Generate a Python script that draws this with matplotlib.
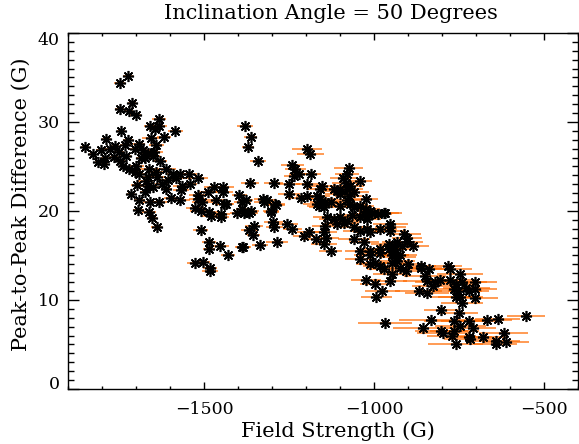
import matplotlib
matplotlib.use("Agg")
import matplotlib.pyplot as plt
from matplotlib.ticker import MultipleLocator
from matplotlib.transforms import ScaledTranslation

# field strength (G), peak-to-peak difference (G), half width of the error bar (G)
field = [
    -1849, -1828, -1803, -1790, -1812, -1787, -1778, -1765, -1793, -1747,
    -1739, -1684, -1690, -1625, -1611, -1675, -1715, -1540,
    -1723, -1748, -1712, -1748, -1722, -1701, -1633, -1659, -1632, -1645,
    -1585, -1744, -1656, -1618, -1724, -1640, -1763, -1731, -1691, -1750,
    -1704, -1679, -1666, -1651, -1674, -1730, -1646, -1630, -1720, -1699,
    -1704, -1661, -1642, -1611, -1591, -1572, -1545, -1519, -1666, -1637,
    -1671, -1606, -1582, -1697, -1666, -1651, -1564, -1568, -1470, -1445,
    -1489, -1445, -1519, -1397, -1691, -1659, -1632, -1597, -1572, -1519,
    -1505, -1465, -1441, -1387, -1694, -1661, -1653, -1639, -1527, -1510,
    -1485, -1451, -1436, -1402, -1387, -1480, -1451, -1510, -1485, -1485,
    -1452, -1429, -1387, -1527, -1503, -1482, -1482,
    -1380, -1363, -1371, -1196, -1187, -1342, -1241, -1231, -1221, -1236,
    -1185, -1075, -1079, -1090, -1040, -1081, -1365, -1295, -1250, -1196,
    -1153, -1158, -1119, -1099, -1079, -1070, -1025, -1059, -1328, -1314,
    -1290, -1304, -1363, -1250, -1216, -1196, -1167, -1158, -1143, -1162,
    -1148, -1108, -1099, -1075, -1079, -1070, -1059, -1040, -1025, -1011,
    -1001, -972, -987, -1030, -1016, -1378, -1368, -1382, -1324, -1287,
    -1302, -1353, -1368, -1355, -1296, -1293, -1255, -1241, -1285, -1384,
    -1336, -1207, -1192, -1172, -1148, -1140, -1148, -1128, -1167, -1128,
    -1099, -1138, -1118, -1099, -1079, -1064, -1040, -1021, -1108, -1143,
    -1089, -1059, -1040, -1021, -1011, -981, -952, -952, -913, -903,
    -932, -1059, -1030, -1040, -1011, -981, -957, -942, -918, -903,
    -884, -1011, -981, -948, -900, -923, -863, -783,
    -981, -942, -923, -996, -1040, -1011, -972, -948, -952, -996,
    -1023, -976, -993, -863, -838, -849, -844, -777, -746, -777,
    -703, -869, -844, -827, -760, -753, -746, -741, -722, -703,
    -802, -749, -967, -857, -832, -802, -764, -771, -722, -679,
    -667, -636, -553, -760, -717, -642, -612, -618,
    -967, -952, -957, -938, -947, -932, -931, -906, -821, -807,
    -741, -703, -728, -764, -760, -746, -710, -796, -764, -722, -642,
]
diff = [
    27.2, 26.4, 26.8, 25.9, 25.5, 28.1, 27.0, 26.1, 25.3, 25.6,
    25.0, 25.9, 24.2, 23.0, 22.5, 22.1, 21.9, 23.0,
    35.2, 34.4, 32.1, 31.5, 31.2, 30.8, 30.3, 29.5, 29.5, 29.2,
    29.0, 29.0, 28.2, 28.3, 28.0, 27.4, 27.3, 27.4, 27.5, 26.6,
    27.0, 26.8, 26.5, 26.2, 26.0, 26.2, 26.6, 25.6, 24.7, 25.1,
    24.4, 24.7, 24.4, 24.7, 24.2, 24.2, 24.2, 23.7, 23.8, 23.8,
    23.4, 23.5, 23.7, 22.9, 22.8, 22.7, 22.8, 22.4, 22.7, 22.7,
    22.1, 22.1, 21.8, 21.8, 21.2, 21.0, 21.0, 21.5, 21.2, 21.3,
    21.0, 21.2, 20.8, 21.0, 20.1, 19.9, 19.2, 18.2, 20.3, 20.0,
    19.9, 19.7, 20.8, 19.8, 20.2, 19.4, 19.3, 17.9, 16.5, 15.7,
    16.1, 15.0, 16.0, 14.2, 14.3, 13.6, 13.3,
    29.6, 28.3, 27.2, 27.0, 26.4, 25.6, 25.2, 24.7, 24.1, 23.9,
    24.2, 24.8, 24.1, 23.7, 23.4, 23.2, 23.2, 23.2, 23.0, 23.0,
    22.8, 22.5, 22.5, 22.5, 22.5, 22.8, 21.4, 22.1, 21.3, 21.2,
    20.8, 20.0, 20.0, 21.9, 21.5, 21.7, 21.7, 21.3, 21.0, 20.6,
    20.4, 22.3, 21.9, 21.7, 21.2, 20.8, 20.4, 20.6, 20.2, 20.0,
    19.8, 19.8, 19.7, 19.7, 19.5, 21.2, 19.8, 19.8, 21.0, 20.7,
    19.9, 18.3, 17.9, 17.3, 18.8, 18.2, 18.5, 18.0, 16.5, 16.0,
    16.2, 17.2, 17.6, 16.8, 17.6, 17.0, 16.3, 15.5, 20.8, 21.0,
    20.6, 19.3, 19.1, 19.3, 18.9, 19.5, 19.3, 19.1, 18.5, 18.3,
    18.7, 18.2, 17.8, 18.0, 17.6, 18.0, 18.5, 18.2, 17.4, 17.0,
    16.5, 16.8, 16.5, 15.5, 15.5, 15.7, 15.7, 16.1, 16.1, 16.5,
    16.1, 14.0, 13.8, 14.2, 14.0, 13.6, 13.8, 13.8,
    15.3, 15.0, 15.0, 14.2, 14.6, 15.0, 13.5, 12.9, 12.1, 11.8,
    12.2, 11.0, 10.3, 13.6, 13.5, 12.7, 12.1, 13.5, 12.9, 12.3,
    12.0, 11.0, 10.8, 11.6, 11.8, 11.0, 10.3, 9.7, 11.0, 10.2,
    8.9, 8.5, 7.4, 6.9, 7.7, 6.5, 7.6, 5.9, 7.6, 5.8,
    7.7, 7.9, 8.2, 5.0, 5.6, 5.4, 5.3, 6.3,
    19.8, 17.8, 16.3, 15.7, 15.1, 14.8, 14.4, 13.3, 12.0, 12.2,
    12.0, 11.2, 11.4, 11.2, 10.3, 7.1, 6.9, 6.3, 6.5, 5.8, 5.1,
]
field_err = [
    12, 10, 14, 12, 10, 12, 15, 12, 10, 14,
    12, 16, 14, 18, 16, 14, 12, 20,
    14, 16, 12, 14, 12, 16, 20, 18, 24, 16,
    22, 12, 26, 20, 14, 22, 12, 16, 18, 14,
    20, 24, 28, 22, 18, 16, 24, 20, 16, 22,
    18, 26, 24, 28, 22, 26, 24, 30, 20, 24,
    22, 26, 28, 18, 24, 20, 28, 24, 30, 34,
    28, 30, 26, 22, 16, 20, 24, 22, 30, 26,
    30, 28, 26, 24, 16, 20, 14, 16, 26, 30,
    26, 28, 24, 22, 20, 28, 24, 22, 20, 18,
    24, 20, 22, 24, 22, 20, 24,
    24, 20, 18, 44, 40, 24, 34, 32, 30, 28,
    30, 42, 36, 40, 34, 44, 26, 28, 32, 34,
    40, 38, 42, 44, 46, 40, 36, 44, 24, 22,
    28, 24, 26, 32, 36, 34, 38, 40, 44, 36,
    42, 46, 44, 40, 44, 48, 44, 40, 44, 38,
    42, 46, 40, 44, 40, 22, 26, 20, 28, 24,
    22, 26, 24, 20, 28, 24, 30, 28, 32, 22,
    24, 32, 36, 38, 40, 36, 38, 34, 42, 46,
    48, 42, 44, 46, 40, 44, 48, 42, 46, 40,
    46, 44, 50, 42, 44, 48, 52, 46, 50, 44,
    46, 48, 44, 46, 42, 50, 46, 48, 44, 46,
    46, 42, 52, 48, 50, 48, 46, 42,
    50, 46, 50, 44, 46, 48, 50, 54, 48, 46,
    44, 52, 46, 62, 70, 62, 72, 66, 68, 74,
    66, 70, 66, 62, 68, 72, 66, 62, 60, 68,
    50, 56, 80, 86, 94, 78, 88, 72, 80, 68,
    72, 66, 56, 80, 76, 70, 68, 72,
    50, 46, 52, 48, 50, 54, 52, 50, 58, 54,
    74, 66, 70, 68, 72, 76, 70, 78, 72, 68, 64,
]
y_ticks = [0, 10, 20, 30, 40]

title = "Inclination Angle = 50 Degrees"
xlabel = "Field Strength (G)"
ylabel = "Peak-to-Peak Difference (G)"

plt.rcParams["font.family"] = "DejaVu Serif"
plt.rcParams["font.size"] = 12.5

fig = plt.figure(figsize=(5.79, 4.44), dpi=100)
ax = fig.add_axes([0.1175, 0.1239, 0.8808, 0.8018])

ax.errorbar(field, diff, xerr=field_err, fmt="none", ecolor="#ff6a00",
            elinewidth=1.1, alpha=0.85, capsize=0, zorder=2)
ax.plot(field, diff, linestyle="none", marker=(8, 2, 0), markersize=8,
        markeredgewidth=1.2, color="black", zorder=3)

ax.set_xlim(-1900, -400)
ax.set_ylim(0, 40)
ax.xaxis.set_major_locator(MultipleLocator(500))
ax.xaxis.set_minor_locator(MultipleLocator(100))
ax.set_yticks(y_ticks)
ax.yaxis.set_minor_locator(MultipleLocator(1))
ax.tick_params(which="both", direction="in", top=True, right=True, width=1)
ax.tick_params(axis="x", which="major", length=5, pad=9)
ax.tick_params(axis="x", which="minor", length=2.5)
ax.tick_params(axis="y", which="major", length=7.7, pad=6)
ax.tick_params(axis="y", which="minor", length=4)
for sp in ax.spines.values():
    sp.set_linewidth(1)

# the end labels of the y axis sit inside the frame
yticks = ax.yaxis.get_major_ticks()
lab0 = yticks[0].label1
lab0.set_transform(lab0.get_transform() + ScaledTranslation(0, 0.06, fig.dpi_scale_trans))
lab40 = yticks[-1].label1
lab40.set_transform(lab40.get_transform() + ScaledTranslation(0, -0.06, fig.dpi_scale_trans))

ax.set_title(title, x=0.515, pad=10)
ax.set_xlabel(xlabel, fontsize=15, labelpad=2, x=0.53)
ax.set_ylabel(ylabel, fontsize=15, labelpad=5, y=0.52)

fig.savefig("out.png", dpi=100)
